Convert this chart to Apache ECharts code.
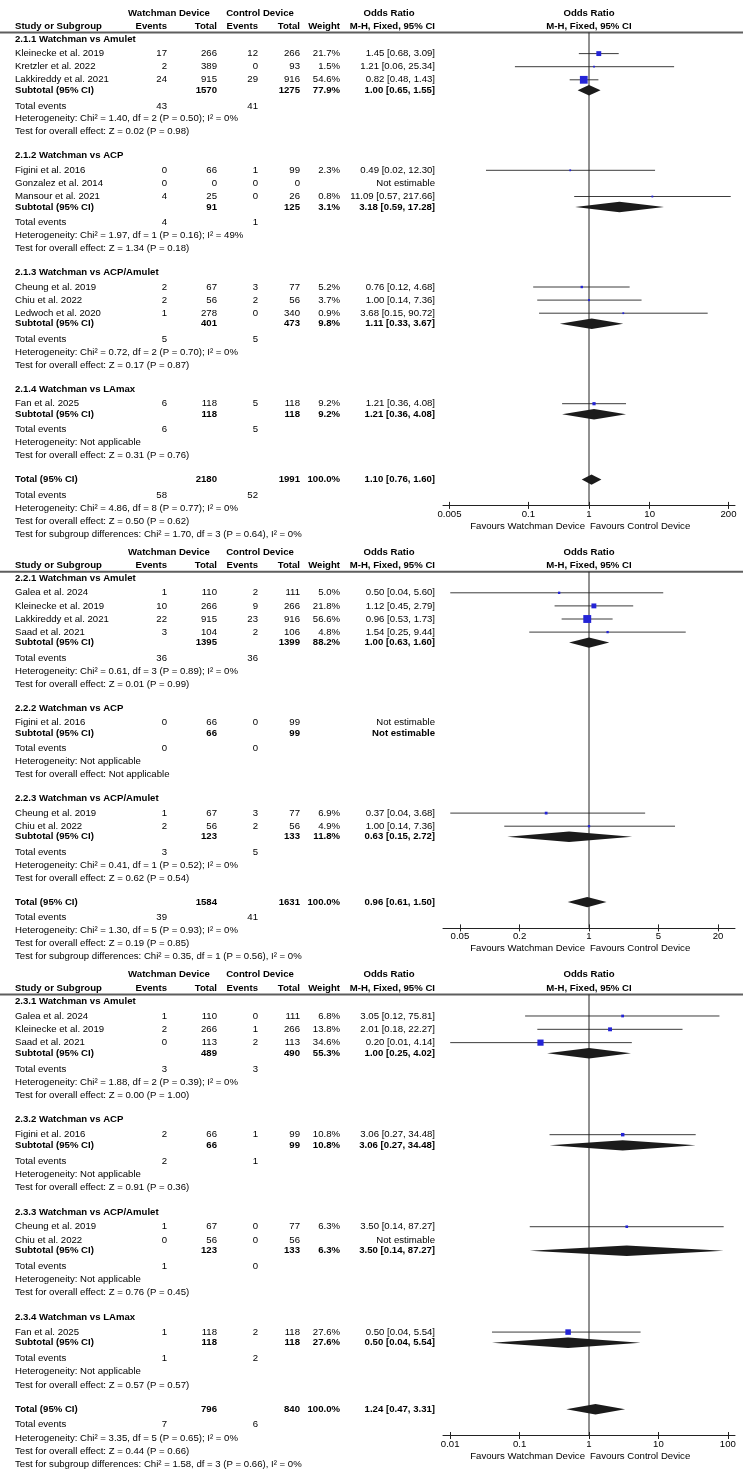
<!DOCTYPE html>
<html><head><meta charset="utf-8">
<script src="https://cdn.jsdelivr.net/npm/echarts@6.0.0/dist/echarts.min.js"></script>
<style>html,body{margin:0;padding:0;background:#fff}#c{width:750px;height:1472px}</style>
</head><body><div id="c"></div><script>
// ===== DATA =====
// study rows: [subgroup index, study, Watchman events, Watchman total, Control events, Control total, weight %, OR, CI low, CI high]
const studies1 = [
  [0, 'Kleinecke et al. 2019', 17, 266, 12, 266, 21.7, 1.45, 0.68, 3.09],
  [0, 'Kretzler et al. 2022', 2, 389, 0, 93, 1.5, 1.21, 0.06, 25.34],
  [0, 'Lakkireddy et al. 2021', 24, 915, 29, 916, 54.6, 0.82, 0.48, 1.43],
  [1, 'Figini et al. 2016', 0, 66, 1, 99, 2.3, 0.49, 0.02, 12.30],
  [1, 'Gonzalez et al. 2014', 0, 0, 0, 0, null, null, null, null],
  [1, 'Mansour et al. 2021', 4, 25, 0, 26, 0.8, 11.09, 0.57, 217.66],
  [2, 'Cheung et al. 2019', 2, 67, 3, 77, 5.2, 0.76, 0.12, 4.68],
  [2, 'Chiu et al. 2022', 2, 56, 2, 56, 3.7, 1.00, 0.14, 7.36],
  [2, 'Ledwoch et al. 2020', 1, 278, 0, 340, 0.9, 3.68, 0.15, 90.72],
  [3, 'Fan et al. 2025', 6, 118, 5, 118, 9.2, 1.21, 0.36, 4.08]
];
// subgroup rows: [label, Watchman total, Control total, weight %, OR, CI low, CI high, Watchman events, Control events, heterogeneity, overall effect]
const groups1 = [
  ['2.1.1 Watchman vs Amulet', 1570, 1275, 77.9, 1.00, 0.65, 1.55, 43, 41, 'Chi\u00b2 = 1.40, df = 2 (P = 0.50); I\u00b2 = 0%', 'Z = 0.02 (P = 0.98)'],
  ['2.1.2 Watchman vs ACP', 91, 125, 3.1, 3.18, 0.59, 17.28, 4, 1, 'Chi\u00b2 = 1.97, df = 1 (P = 0.16); I\u00b2 = 49%', 'Z = 1.34 (P = 0.18)'],
  ['2.1.3 Watchman vs ACP/Amulet', 401, 473, 9.8, 1.11, 0.33, 3.67, 5, 5, 'Chi\u00b2 = 0.72, df = 2 (P = 0.70); I\u00b2 = 0%', 'Z = 0.17 (P = 0.87)'],
  ['2.1.4 Watchman vs LAmax', 118, 118, 9.2, 1.21, 0.36, 4.08, 6, 5, 'Not applicable', 'Z = 0.31 (P = 0.76)']
];
// overall: [Watchman total, Control total, weight, OR, low, high, Watchman events, Control events, heterogeneity, overall effect, subgroup differences]
const overall1 = [2180, 1991, 100.0, 1.10, 0.76, 1.60, 58, 52, 'Chi\u00b2 = 4.86, df = 8 (P = 0.77); I\u00b2 = 0%', 'Z = 0.50 (P = 0.62)', 'Chi\u00b2 = 1.70, df = 3 (P = 0.64), I\u00b2 = 0%'];
const ticks1 = [0.005, 0.1, 1, 10, 200];
const bounds1 = [1 / 256, 256];

const studies2 = [
  [0, 'Galea et al. 2024', 1, 110, 2, 111, 5.0, 0.50, 0.04, 5.60],
  [0, 'Kleinecke et al. 2019', 10, 266, 9, 266, 21.8, 1.12, 0.45, 2.79],
  [0, 'Lakkireddy et al. 2021', 22, 915, 23, 916, 56.6, 0.96, 0.53, 1.73],
  [0, 'Saad et al. 2021', 3, 104, 2, 106, 4.8, 1.54, 0.25, 9.44],
  [1, 'Figini et al. 2016', 0, 66, 0, 99, null, null, null, null],
  [2, 'Cheung et al. 2019', 1, 67, 3, 77, 6.9, 0.37, 0.04, 3.68],
  [2, 'Chiu et al. 2022', 2, 56, 2, 56, 4.9, 1.00, 0.14, 7.36]
];
const groups2 = [
  ['2.2.1 Watchman vs Amulet', 1395, 1399, 88.2, 1.00, 0.63, 1.60, 36, 36, 'Chi\u00b2 = 0.61, df = 3 (P = 0.89); I\u00b2 = 0%', 'Z = 0.01 (P = 0.99)'],
  ['2.2.2 Watchman vs ACP', 66, 99, null, null, null, null, 0, 0, 'Not applicable', 'Not applicable'],
  ['2.2.3 Watchman vs ACP/Amulet', 123, 133, 11.8, 0.63, 0.15, 2.72, 3, 5, 'Chi\u00b2 = 0.41, df = 1 (P = 0.52); I\u00b2 = 0%', 'Z = 0.62 (P = 0.54)']
];
const overall2 = [1584, 1631, 100.0, 0.96, 0.61, 1.50, 39, 41, 'Chi\u00b2 = 1.30, df = 5 (P = 0.93); I\u00b2 = 0%', 'Z = 0.19 (P = 0.85)', 'Chi\u00b2 = 0.35, df = 1 (P = 0.56), I\u00b2 = 0%'];
const ticks2 = [0.05, 0.2, 1, 5, 20];
const bounds2 = [1 / 29.6, 29.6];

const studies3 = [
  [0, 'Galea et al. 2024', 1, 110, 0, 111, 6.8, 3.05, 0.12, 75.81],
  [0, 'Kleinecke et al. 2019', 2, 266, 1, 266, 13.8, 2.01, 0.18, 22.27],
  [0, 'Saad et al. 2021', 0, 113, 2, 113, 34.6, 0.20, 0.01, 4.14],
  [1, 'Figini et al. 2016', 2, 66, 1, 99, 10.8, 3.06, 0.27, 34.48],
  [2, 'Cheung et al. 2019', 1, 67, 0, 77, 6.3, 3.50, 0.14, 87.27],
  [2, 'Chiu et al. 2022', 0, 56, 0, 56, null, null, null, null],
  [3, 'Fan et al. 2025', 1, 118, 2, 118, 27.6, 0.50, 0.04, 5.54]
];
const groups3 = [
  ['2.3.1 Watchman vs Amulet', 489, 490, 55.3, 1.00, 0.25, 4.02, 3, 3, 'Chi\u00b2 = 1.88, df = 2 (P = 0.39); I\u00b2 = 0%', 'Z = 0.00 (P = 1.00)'],
  ['2.3.2 Watchman vs ACP', 66, 99, 10.8, 3.06, 0.27, 34.48, 2, 1, 'Not applicable', 'Z = 0.91 (P = 0.36)'],
  ['2.3.3 Watchman vs ACP/Amulet', 123, 133, 6.3, 3.50, 0.14, 87.27, 1, 0, 'Not applicable', 'Z = 0.76 (P = 0.45)'],
  ['2.3.4 Watchman vs LAmax', 118, 118, 27.6, 0.50, 0.04, 5.54, 1, 2, 'Not applicable', 'Z = 0.57 (P = 0.57)']
];
const overall3 = [796, 840, 100.0, 1.24, 0.47, 3.31, 7, 6, 'Chi\u00b2 = 3.35, df = 5 (P = 0.65); I\u00b2 = 0%', 'Z = 0.44 (P = 0.66)', 'Chi\u00b2 = 1.58, df = 3 (P = 0.66), I\u00b2 = 0%'];
const ticks3 = [0.01, 0.1, 1, 10, 100];
const bounds3 = [1 / 127, 127];

const headerTop = ['Watchman Device', 'Control Device', 'Odds Ratio'];
const headerCols = ['Study or Subgroup', 'Events', 'Total', 'Events', 'Total', 'Weight', 'M-H, Fixed, 95% CI'];
const favours = ['Favours Watchman Device', 'Favours Control Device'];

// ===== LAYOUT / STYLE =====
const FONT = "'Liberation Sans', Arial, sans-serif";
const FS = 9.6;
const TXT = '#000';
const COL = { name: 15, evT: 167, totT: 217, evC: 258, totC: 300, w: 340, or: 435, hdrT: 169, hdrC: 260, hdrOR: 389 };
const GAP = { hdr2: 13, line: 19.5, firstGroup: 26, firstStudy: 14.6, study: 13.1, sub: 10.5, events: 15.6, het: 12.9, test: 12.9,
  group: 24, total: 24, totEvents: 15.3, totLine: 13.1, axis: 25.8, fav: 20.5, panel: 18 };
const PLOT = { left: 443, width: 292, lineRight: 743 };
const panelScale = [1, 1, 1.017];

const panels = [
  { studies: studies1, groups: groups1, overall: overall1, ticks: ticks1, bounds: bounds1 },
  { studies: studies2, groups: groups2, overall: overall2, ticks: ticks2, bounds: bounds2 },
  { studies: studies3, groups: groups3, overall: overall3, ticks: ticks3, bounds: bounds3 }
];

const lg = v => Math.log10(v);
const f2 = v => v.toFixed(2);
const orStr = (o, l, h) => o == null ? 'Not estimable' : f2(o) + ' [' + f2(l) + ', ' + f2(h) + ']';
const wStr = w => w == null ? '' : w.toFixed(1) + '%';

const texts = [];
const hLines = [];
function addT(x, y, t, align, bold) { texts.push({ x, y, t: String(t), align, bold: !!bold }); }

let y0 = 13;
const layouts = [];
panels.forEach((P, pi) => {
  const k = panelScale[pi];
  const G = key => GAP[key] * k;
  const L = { ci: [], sq: [], dia: [], ptexts: [] };
  L.hdr1 = y0; L.hdr2 = y0 + G('hdr2'); L.lineY = y0 + G('line');
  addT(COL.hdrT, L.hdr1, headerTop[0], 'center', true);
  addT(COL.hdrC, L.hdr1, headerTop[1], 'center', true);
  addT(COL.hdrOR, L.hdr1, headerTop[2], 'center', true);
  const hx = [COL.name, COL.evT, COL.totT, COL.evC, COL.totC, COL.w, COL.or];
  headerCols.forEach((h, i) => addT(hx[i], L.hdr2, h, i === 0 ? 'left' : 'right', true));
  L.ptexts.push({ x: 0, y: L.hdr1, t: headerTop[2], align: 'center', bold: true, dx: 0 });
  L.ptexts.push({ x: 0, y: L.hdr2, t: headerCols[6], align: 'center', bold: true, dx: 0 });
  hLines.push([0, L.lineY, PLOT.lineRight]);

  let y = y0 + G('firstGroup');
  P.groups.forEach((g, gi) => {
    if (gi > 0) y += G('group');
    addT(COL.name, y, g[0], 'left', true);
    const ss = P.studies.filter(s => s[0] === gi);
    ss.forEach((s, si) => {
      y += si === 0 ? G('firstStudy') : G('study');
      addT(COL.name, y, s[1], 'left');
      addT(COL.evT, y, s[2], 'right');
      addT(COL.totT, y, s[3], 'right');
      addT(COL.evC, y, s[4], 'right');
      addT(COL.totC, y, s[5], 'right');
      addT(COL.w, y, wStr(s[6]), 'right');
      addT(COL.or, y, orStr(s[7], s[8], s[9]), 'right');
      if (s[7] != null) {
        L.ci.push([lg(s[8]), lg(s[9]), y]);
        L.sq.push([lg(s[7]), y, s[6]]);
      }
    });
    y += G('sub');
    addT(COL.name, y, 'Subtotal (95% CI)', 'left', true);
    addT(COL.totT, y, g[1], 'right', true);
    addT(COL.totC, y, g[2], 'right', true);
    addT(COL.w, y, wStr(g[3]), 'right', true);
    addT(COL.or, y, orStr(g[4], g[5], g[6]), 'right', true);
    if (g[4] != null) L.dia.push([lg(g[5]), lg(g[4]), lg(g[6]), y]);
    y += G('events');
    addT(COL.name, y, 'Total events', 'left');
    addT(COL.evT, y, g[7], 'right');
    addT(COL.evC, y, g[8], 'right');
    y += G('het');
    addT(COL.name, y, 'Heterogeneity: ' + g[9], 'left');
    y += G('test');
    addT(COL.name, y, 'Test for overall effect: ' + g[10], 'left');
  });
  const o = P.overall;
  y += G('total');
  L.totalY = y;
  addT(COL.name, y, 'Total (95% CI)', 'left', true);
  addT(COL.totT, y, o[0], 'right', true);
  addT(COL.totC, y, o[1], 'right', true);
  addT(COL.w, y, wStr(o[2]), 'right', true);
  addT(COL.or, y, orStr(o[3], o[4], o[5]), 'right', true);
  L.dia.push([lg(o[4]), lg(o[3]), lg(o[5]), y]);
  y += G('totEvents');
  addT(COL.name, y, 'Total events', 'left');
  addT(COL.evT, y, o[6], 'right');
  addT(COL.evC, y, o[7], 'right');
  y += G('totLine'); addT(COL.name, y, 'Heterogeneity: ' + o[8], 'left');
  y += G('totLine'); addT(COL.name, y, 'Test for overall effect: ' + o[9], 'left');
  y += G('totLine'); addT(COL.name, y, 'Test for subgroup differences: ' + o[10], 'left');
  L.axisY = L.totalY + G('axis');
  L.ptexts.push({ x: 0, y: L.axisY + GAP.fav, t: favours[0], align: 'right', bold: false, dx: -4 });
  L.ptexts.push({ x: 0, y: L.axisY + GAP.fav, t: favours[1], align: 'left', bold: false, dx: 1 });
  layouts.push(L);
  y0 = y + GAP.panel;
});

const H = 1472, W = 750;
const font = b => (b ? 'bold ' : '') + FS + 'px ' + FONT;

function textSeries(list, xi, yi) {
  return {
    type: 'custom', xAxisIndex: xi, yAxisIndex: yi, silent: true, clip: false,
    data: list.map(t => [t.x, t.y]),
    renderItem: (params, api) => {
      const t = list[params.dataIndex];
      const p = api.coord([t.x, t.y]);
      return { type: 'text', x: p[0] + (t.dx || 0), y: p[1],
        style: { text: t.t, align: t.align, verticalAlign: 'middle', font: font(t.bold), fill: TXT } };
    }
  };
}

const grids = [{ left: 0, top: 0, width: W, height: H, containLabel: false, outerBoundsMode: 'none' }];
const xAxes = [{ gridIndex: 0, type: 'value', min: 0, max: W, show: false }];
const yAxes = [{ gridIndex: 0, type: 'value', min: 0, max: H, inverse: true, show: false }];
const series = [
  textSeries(texts, 0, 0),
  {
    type: 'custom', xAxisIndex: 0, yAxisIndex: 0, silent: true, data: hLines,
    renderItem: (params, api) => {
      const a = api.coord([api.value(0), api.value(1)]);
      const b = api.coord([api.value(2), api.value(1)]);
      return { type: 'line', shape: { x1: a[0], y1: a[1], x2: b[0], y2: b[1] }, style: { stroke: '#5e5e5e', lineWidth: 2 } };
    }
  }
];

panels.forEach((P, pi) => {
  const L = layouts[pi];
  const gi = grids.length;
  const mn = lg(P.bounds[0]), mx = lg(P.bounds[1]);
  const tv = P.ticks.map(lg);
  const fmt = v => { const t = P.ticks.find(t => Math.abs(lg(t) - v) < 1e-6); return t == null ? '' : String(t); };
  const g = { left: PLOT.left, width: PLOT.width, top: L.lineY, height: L.axisY - L.lineY, containLabel: false, outerBoundsMode: 'none' };
  grids.push(Object.assign({}, g), Object.assign({}, g));
  xAxes.push({
    gridIndex: gi, type: 'value', min: mn, max: mx, position: 'bottom',
    axisLine: { show: true, onZero: false, lineStyle: { color: '#222', width: 1 } },
    axisTick: { show: true, inside: false, length: 3.5, customValues: tv, lineStyle: { color: '#222', width: 1 } },
    axisLabel: { show: true, customValues: tv, formatter: fmt, margin: 3.5, color: TXT, fontSize: FS, fontFamily: FONT },
    splitLine: { show: false }
  });
  xAxes.push({
    gridIndex: gi + 1, type: 'value', min: mn, max: mx, position: 'bottom',
    axisLine: { show: false, onZero: false },
    axisTick: { show: true, inside: true, length: 3.5, customValues: tv, lineStyle: { color: '#222', width: 1 } },
    axisLabel: { show: false }, splitLine: { show: false }
  });
  yAxes.push({ gridIndex: gi, type: 'value', min: L.lineY, max: L.axisY, inverse: true, show: false });
  yAxes.push({ gridIndex: gi + 1, type: 'value', min: L.lineY, max: L.axisY, inverse: true, show: false });

  // CI lines
  series.push({
    type: 'custom', xAxisIndex: gi, yAxisIndex: gi, silent: true, clip: false, data: L.ci,
    renderItem: (params, api) => {
      const a = api.coord([api.value(0), api.value(2)]);
      const b = api.coord([api.value(1), api.value(2)]);
      return { type: 'line', shape: { x1: a[0], y1: a[1], x2: b[0], y2: b[1] }, style: { stroke: '#3c3c3c', lineWidth: 1 } };
    }
  });
  // reference line at OR = 1
  series.push({
    type: 'custom', xAxisIndex: gi, yAxisIndex: gi, silent: true, data: [[0, L.lineY, L.axisY]],
    renderItem: (params, api) => {
      const a = api.coord([api.value(0), api.value(1)]);
      const b = api.coord([api.value(0), api.value(2)]);
      return { type: 'line', shape: { x1: a[0], y1: a[1], x2: b[0], y2: b[1] }, style: { stroke: '#222', lineWidth: 1 } };
    }
  });
  // squares
  series.push({
    type: 'custom', xAxisIndex: gi, yAxisIndex: gi, silent: true, data: L.sq,
    renderItem: (params, api) => {
      const c = api.coord([api.value(0), api.value(1)]);
      const s = Math.max(1.8, 1.05 * Math.sqrt(api.value(2)));
      return { type: 'rect', shape: { x: c[0] - s / 2, y: c[1] - s / 2, width: s, height: s }, style: { fill: '#2424d6' } };
    }
  });
  // diamonds
  series.push({
    type: 'custom', xAxisIndex: gi, yAxisIndex: gi, silent: true, data: L.dia,
    renderItem: (params, api) => {
      const l = api.coord([api.value(0), api.value(3)]);
      const m = api.coord([api.value(1), api.value(3)]);
      const r = api.coord([api.value(2), api.value(3)]);
      const h = 5.2;
      return { type: 'polygon', shape: { points: [[l[0], l[1]], [m[0], m[1] - h], [r[0], r[1]], [m[0], m[1] + h]] }, style: { fill: '#1b1b1b' } };
    }
  });
  series.push(textSeries(L.ptexts, gi, gi));
});

const chart = echarts.init(document.getElementById('c'), null, { renderer: 'canvas', width: W, height: H });
chart.setOption({
  backgroundColor: '#fff',
  animation: false,
  grid: grids, xAxis: xAxes, yAxis: yAxes, series: series
});
</script></body></html>
